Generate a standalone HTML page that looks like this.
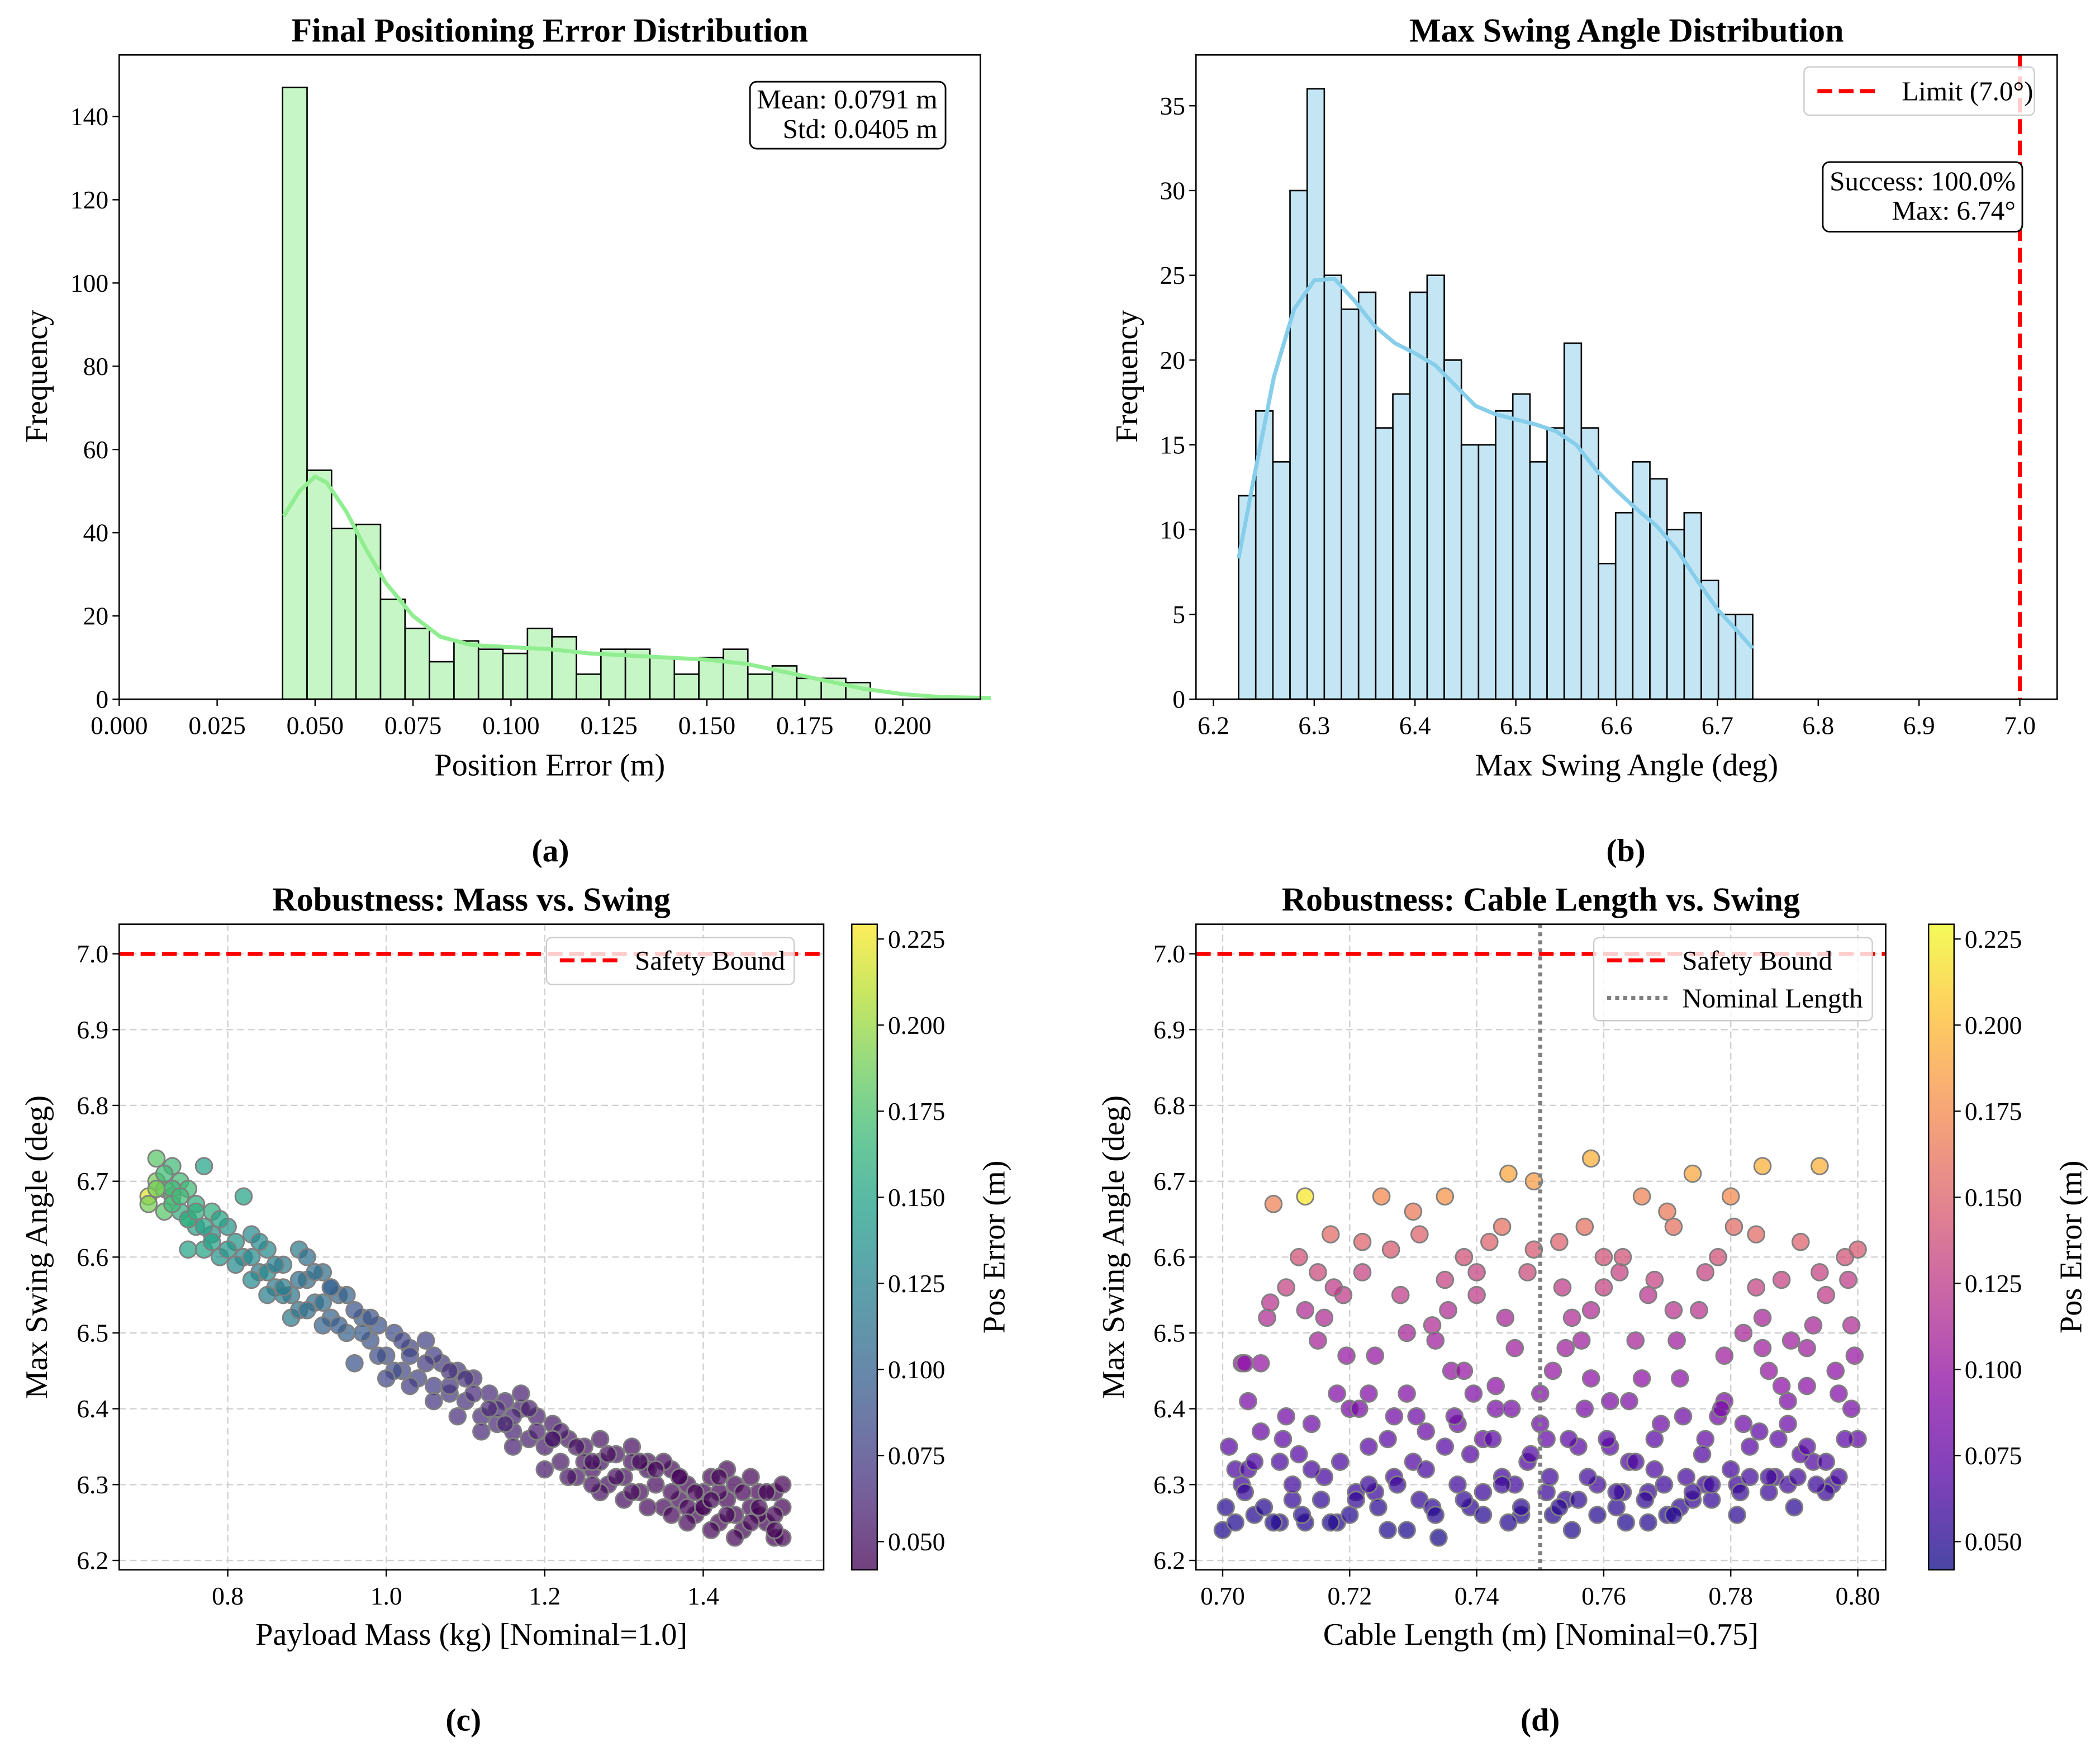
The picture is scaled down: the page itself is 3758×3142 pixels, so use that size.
<!DOCTYPE html>
<html><head><meta charset="utf-8"><style>
html,body{margin:0;padding:0;background:#fff}
svg{display:block}
text{font-family:"Liberation Serif","DejaVu Serif",serif;fill:#000}
.t{font-size:25px;font-weight:bold}
.lab{font-size:23.5px}
.tk{font-size:19px}
.bx{font-size:20.5px}
.pl{font-size:24px;font-weight:bold}
</style></head><body>
<svg id="fig" width="3758" height="3142" viewBox="0 0 1568 1311" preserveAspectRatio="none" xmlns="http://www.w3.org/2000/svg">
<g id="root"></g>
</svg>
<script>
// ---------- DATA ----------
const errBinStart = 0.0417;
const errBinWidth = 0.00625;
const errCounts = [147,55,41,42,24,17,9,14,12,11,17,15,6,12,12,10,6,10,12,6,8,5,5,4];
const errKdeX = [0.042,0.046,0.050,0.053,0.058,0.063,0.068,0.075,0.082,0.090,0.100,0.110,0.120,0.130,0.140,0.150,0.160,0.170,0.180,0.190,0.200,0.210,0.2225];
const errKdeY = [44,50,53.5,52,45,36,28,20,15,13,12.5,12,11,10.5,10,9.5,8.5,6.5,4.5,2.5,1.2,0.5,0.3];
const errXTicks = [0.000,0.025,0.050,0.075,0.100,0.125,0.150,0.175,0.200];
const errYTicks = [0,20,40,60,80,100,120,140];

const swBinStart = 6.225;
const swBinWidth = 0.0170;
const swCounts = [12,17,14,30,36,25,23,24,16,18,24,25,20,15,15,17,18,14,16,21,16,8,11,14,13,10,11,7,5,5];
const swKdeX = [6.225,6.24,6.26,6.28,6.30,6.32,6.34,6.36,6.38,6.40,6.42,6.44,6.46,6.48,6.50,6.52,6.54,6.56,6.58,6.60,6.62,6.64,6.66,6.68,6.70,6.72,6.735];
const swKdeY = [8.3,13,19,23,24.7,24.8,23.5,22,21,20.4,19.7,18.5,17.3,16.8,16.5,16.2,15.8,15,13.5,12.3,11.2,10.2,8.8,7,5.3,4,3];
const swXTicks = [6.2,6.3,6.4,6.5,6.6,6.7,6.8,6.9,7.0];
const swYTicks = [0,5,10,15,20,25,30,35];

const massX = [0.70,0.70,0.71,0.71,0.72,0.72,0.73,0.73,0.74,0.74,0.75,0.75,0.76,0.76,0.77,0.77,0.78,0.78,0.80,0.81,0.82,0.82,0.83,0.84,0.85,0.86,0.87,0.88,0.88,0.89,0.90,0.91,0.92,0.93,0.94,0.95,0.96,0.97,0.98,0.99,1.00,1.01,1.02,1.03,1.04,1.05,1.06,1.07,1.08,1.09,1.10,1.11,1.12,1.13,1.14,1.15,1.16,1.17,1.18,1.19,1.20,1.21,1.22,1.23,1.24,1.25,1.26,1.27,1.28,1.29,1.30,1.31,1.32,1.33,1.34,1.35,1.36,1.37,1.38,1.39,1.40,1.41,1.42,1.43,1.44,1.45,1.46,1.47,1.48,1.49,1.50,1.50,1.35,1.42,1.44,1.46,1.38,1.30,1.25,1.18,1.10,0.95,0.90,0.85,0.79,0.83,0.87,0.92,0.97,1.03,1.08,1.14,1.22,1.27,1.33,1.40,1.47,1.49,1.43,1.37,1.31,1.21,1.16,1.06,1.01,0.93,0.89,0.75,0.73];
const massSwing = [6.68,6.67,6.73,6.70,6.69,6.66,6.72,6.68,6.70,6.66,6.69,6.61,6.67,6.64,6.72,6.61,6.66,6.63,6.64,6.62,6.68,6.60,6.63,6.58,6.61,6.56,6.59,6.55,6.52,6.61,6.57,6.54,6.58,6.52,6.55,6.50,6.46,6.52,6.49,6.51,6.47,6.50,6.45,6.48,6.44,6.49,6.43,6.46,6.42,6.45,6.41,6.44,6.39,6.42,6.38,6.41,6.37,6.40,6.36,6.39,6.35,6.38,6.33,6.36,6.31,6.35,6.32,6.36,6.30,6.34,6.31,6.35,6.29,6.33,6.30,6.27,6.32,6.28,6.30,6.26,6.29,6.31,6.25,6.28,6.30,6.24,6.27,6.29,6.25,6.23,6.27,6.23,6.33,6.29,6.26,6.31,6.27,6.28,6.33,6.40,6.44,6.55,6.60,6.58,6.65,6.57,6.55,6.54,6.50,6.47,6.43,6.40,6.37,6.33,6.32,6.27,6.26,6.29,6.32,6.31,6.33,6.36,6.39,6.47,6.45,6.56,6.53,6.65,6.69];
const massErr = [0.22,0.19,0.18,0.19,0.18,0.18,0.17,0.18,0.17,0.16,0.17,0.15,0.16,0.15,0.15,0.15,0.16,0.14,0.14,0.14,0.15,0.13,0.13,0.12,0.13,0.12,0.12,0.115,0.12,0.12,0.11,0.11,0.11,0.10,0.10,0.10,0.09,0.095,0.09,0.09,0.085,0.085,0.08,0.08,0.078,0.078,0.075,0.072,0.07,0.07,0.068,0.066,0.064,0.063,0.062,0.06,0.06,0.058,0.057,0.056,0.055,0.054,0.053,0.052,0.052,0.051,0.05,0.05,0.049,0.049,0.048,0.048,0.047,0.047,0.047,0.046,0.046,0.046,0.045,0.045,0.045,0.045,0.044,0.044,0.044,0.044,0.044,0.043,0.043,0.043,0.043,0.043,0.046,0.044,0.044,0.044,0.045,0.048,0.051,0.057,0.068,0.10,0.11,0.13,0.15,0.13,0.12,0.11,0.095,0.08,0.07,0.062,0.054,0.05,0.047,0.045,0.043,0.043,0.044,0.046,0.048,0.054,0.06,0.075,0.085,0.10,0.115,0.16,0.17];
const massX2 = [0.71,0.72,0.73,0.74,0.75,0.76,0.77,0.78,0.79,0.80,0.81,0.83,0.84,0.85,0.86,0.87,0.89,0.90,0.91,0.92,0.93,0.94,0.96,0.98,0.99,1.00,1.02,1.03,1.05,1.06,1.08,1.09,1.11,1.12,1.13,1.15,1.16,1.17,1.19,1.20,1.21,1.23,1.24,1.26,1.27,1.28,1.29,1.31,1.32,1.33,1.34,1.36,1.37,1.38,1.39,1.40,1.41,1.42,1.43,1.44,1.45,1.46,1.47,1.48,1.49,1.50,1.49,1.41,1.36,1.26];
const massSwing2 = [6.69,6.71,6.67,6.68,6.65,6.66,6.64,6.62,6.60,6.61,6.59,6.60,6.62,6.55,6.59,6.56,6.57,6.53,6.58,6.51,6.56,6.51,6.53,6.52,6.47,6.44,6.49,6.43,6.46,6.41,6.45,6.39,6.42,6.37,6.40,6.38,6.35,6.42,6.37,6.32,6.36,6.31,6.35,6.33,6.29,6.34,6.31,6.29,6.33,6.27,6.32,6.29,6.31,6.25,6.29,6.27,6.24,6.31,6.26,6.23,6.29,6.25,6.27,6.29,6.26,6.30,6.24,6.28,6.26,6.30];
const massErr2 = [0.19,0.17,0.17,0.17,0.16,0.16,0.15,0.15,0.14,0.14,0.13,0.13,0.13,0.12,0.12,0.12,0.11,0.11,0.11,0.10,0.10,0.095,0.09,0.09,0.085,0.08,0.08,0.075,0.073,0.07,0.068,0.066,0.064,0.062,0.061,0.059,0.058,0.058,0.056,0.054,0.053,0.051,0.051,0.05,0.049,0.049,0.048,0.047,0.047,0.046,0.046,0.045,0.045,0.045,0.044,0.044,0.044,0.044,0.044,0.043,0.043,0.043,0.043,0.043,0.043,0.043,0.043,0.044,0.045,0.049];

const lenX = [0.700,0.701,0.703,0.704,0.705,0.706,0.707,0.708,0.709,0.710,0.711,0.712,0.713,0.713,0.714,0.715,0.716,0.717,0.718,0.719,0.720,0.721,0.722,0.723,0.724,0.725,0.726,0.727,0.728,0.729,0.730,0.731,0.732,0.733,0.734,0.735,0.736,0.737,0.738,0.739,0.740,0.741,0.742,0.743,0.744,0.745,0.746,0.747,0.748,0.749,0.750,0.751,0.752,0.753,0.754,0.755,0.756,0.757,0.758,0.759,0.760,0.761,0.762,0.763,0.764,0.765,0.766,0.767,0.768,0.769,0.770,0.771,0.772,0.773,0.774,0.775,0.776,0.777,0.778,0.779,0.780,0.781,0.782,0.783,0.784,0.785,0.786,0.787,0.788,0.789,0.790,0.791,0.792,0.793,0.794,0.795,0.796,0.797,0.798,0.799,0.800,0.800,0.702,0.712,0.718,0.724,0.733,0.741,0.745,0.748,0.752,0.757,0.763,0.768,0.772,0.776,0.782,0.786,0.791,0.797,0.706,0.727,0.738,0.754,0.766,0.779,0.788,0.799,0.715,0.735,0.760,0.784,0.744,0.770,0.704,0.709,0.721,0.730,0.739,0.746,0.755,0.761,0.767,0.774,0.781,0.789,0.795,0.703,0.716,0.729,0.743,0.758,0.771,0.785,0.793,0.710,0.723,0.737,0.751,0.764,0.778,0.792];
const lenSwing = [6.24,6.35,6.30,6.41,6.26,6.46,6.52,6.67,6.33,6.56,6.28,6.60,6.68,6.25,6.38,6.49,6.31,6.63,6.25,6.55,6.40,6.29,6.62,6.35,6.47,6.68,6.24,6.31,6.55,6.42,6.66,6.28,6.37,6.51,6.23,6.68,6.45,6.30,6.60,6.34,6.55,6.29,6.62,6.40,6.31,6.71,6.48,6.26,6.58,6.70,6.38,6.29,6.45,6.62,6.28,6.52,6.35,6.64,6.73,6.30,6.56,6.41,6.27,6.60,6.33,6.49,6.68,6.29,6.57,6.38,6.26,6.64,6.44,6.31,6.71,6.53,6.36,6.28,6.60,6.41,6.68,6.30,6.50,6.35,6.63,6.72,6.45,6.31,6.57,6.38,6.27,6.62,6.48,6.33,6.72,6.55,6.30,6.42,6.60,6.51,6.36,6.61,6.32,6.34,6.42,6.29,6.27,6.36,6.25,6.33,6.26,6.40,6.29,6.32,6.27,6.30,6.38,6.29,6.34,6.31,6.37,6.39,6.45,6.48,6.44,6.47,6.43,6.40,6.58,6.57,6.60,6.56,6.64,6.66,6.32,6.25,6.28,6.33,6.27,6.30,6.24,6.35,6.25,6.28,6.26,6.30,6.29,6.46,6.52,6.50,6.43,6.44,6.53,6.48,6.51,6.39,6.42,6.38,6.36,6.41,6.39,6.43];
const lenErr = [0.048,0.07,0.06,0.085,0.05,0.10,0.115,0.17,0.065,0.13,0.055,0.14,0.22,0.05,0.08,0.11,0.062,0.155,0.05,0.125,0.085,0.058,0.15,0.07,0.10,0.175,0.048,0.062,0.125,0.09,0.165,0.055,0.078,0.115,0.046,0.18,0.10,0.06,0.14,0.068,0.125,0.058,0.15,0.085,0.062,0.19,0.105,0.05,0.135,0.185,0.08,0.058,0.10,0.15,0.055,0.115,0.07,0.16,0.195,0.06,0.13,0.088,0.052,0.14,0.066,0.11,0.17,0.058,0.13,0.08,0.05,0.16,0.095,0.062,0.19,0.12,0.074,0.055,0.14,0.088,0.175,0.06,0.11,0.07,0.155,0.195,0.10,0.062,0.13,0.08,0.052,0.15,0.105,0.066,0.195,0.125,0.06,0.09,0.14,0.115,0.075,0.145,0.064,0.068,0.09,0.058,0.054,0.075,0.05,0.066,0.05,0.085,0.058,0.064,0.054,0.06,0.08,0.058,0.068,0.062,0.078,0.082,0.10,0.105,0.095,0.105,0.095,0.085,0.135,0.13,0.14,0.13,0.16,0.165,0.064,0.05,0.055,0.066,0.054,0.06,0.048,0.07,0.05,0.055,0.052,0.06,0.058,0.10,0.115,0.11,0.095,0.095,0.12,0.105,0.11,0.082,0.09,0.08,0.075,0.088,0.082,0.095];
const lenX2 = [0.7005,0.702,0.7035,0.705,0.7065,0.708,0.7095,0.711,0.7125,0.714,0.7155,0.717,0.7185,0.720,0.7215,0.723,0.7245,0.726,0.7275,0.729,0.7305,0.732,0.7335,0.735,0.7365,0.738,0.7395,0.741,0.7425,0.744,0.7455,0.747,0.7485,0.750,0.7515,0.753,0.7545,0.756,0.7575,0.759,0.7605,0.762,0.7635,0.765,0.7665,0.768,0.7695,0.771,0.7725,0.774,0.7755,0.777,0.7785,0.780,0.7815,0.783,0.7845,0.786,0.7875,0.789,0.7905,0.792,0.7935,0.795,0.7965,0.798,0.7995,0.7035,0.7075,0.713,0.7175,0.722,0.7265,0.731,0.7355,0.740,0.7445,0.749,0.7535,0.758,0.7625,0.767,0.7715,0.776,0.7805,0.785,0.7895,0.794,0.7985,0.7565,0.7335,0.7195];
const lenSwing2 = [6.27,6.25,6.29,6.33,6.27,6.25,6.36,6.30,6.26,6.32,6.28,6.25,6.33,6.26,6.40,6.30,6.27,6.36,6.30,6.24,6.39,6.32,6.26,6.35,6.39,6.28,6.42,6.26,6.36,6.30,6.40,6.27,6.34,6.42,6.31,6.27,6.36,6.28,6.31,6.26,6.36,6.29,6.25,6.33,6.28,6.36,6.30,6.26,6.39,6.29,6.34,6.30,6.40,6.32,6.29,6.31,6.37,6.31,6.36,6.41,6.31,6.35,6.30,6.33,6.45,6.36,6.47,6.46,6.54,6.53,6.56,6.58,6.61,6.63,6.53,6.58,6.52,6.61,6.56,6.53,6.58,6.55,6.49,6.58,6.64,6.52,6.49,6.58,6.57,6.49,6.49,6.47];
const lenErr2 = [0.05,0.048,0.055,0.065,0.05,0.048,0.072,0.06,0.05,0.062,0.054,0.048,0.064,0.05,0.085,0.058,0.052,0.07,0.058,0.047,0.08,0.062,0.05,0.068,0.08,0.054,0.088,0.05,0.07,0.058,0.084,0.052,0.066,0.09,0.06,0.052,0.07,0.054,0.06,0.05,0.07,0.056,0.048,0.064,0.054,0.07,0.058,0.05,0.08,0.056,0.066,0.058,0.084,0.062,0.056,0.06,0.072,0.06,0.07,0.086,0.06,0.068,0.058,0.064,0.095,0.07,0.10,0.095,0.12,0.115,0.125,0.13,0.145,0.15,0.115,0.13,0.11,0.145,0.125,0.115,0.13,0.12,0.105,0.13,0.155,0.11,0.105,0.13,0.125,0.105,0.105,0.10];

const cXTicks = [0.8,1.0,1.2,1.4];
const dXTicks = [0.70,0.72,0.74,0.76,0.78,0.80];
const scYTicks = [6.2,6.3,6.4,6.5,6.6,6.7,6.8,6.9,7.0];
const cbTicks = [0.050,0.075,0.100,0.125,0.150,0.175,0.200,0.225];

// ---------- HELPERS ----------
const NS = "http://www.w3.org/2000/svg";
const root = document.getElementById('root');
function mk(tag, attrs, parent){
  const e = document.createElementNS(NS, tag);
  for (const k in attrs) e.setAttribute(k, attrs[k]);
  (parent||root).appendChild(e);
  return e;
}
function txt(s, attrs, parent){ const e = mk('text', attrs, parent); e.textContent = s; return e; }
function scale(d0,d1,p0,p1){ return v => p0 + (v-d0)/(d1-d0)*(p1-p0); }
function lerpHex(stops, t){
  t = Math.max(0, Math.min(1, t));
  const n = stops.length-1, i = Math.min(n-1, Math.floor(t*n)), f = t*n - i;
  const a = stops[i], b = stops[i+1];
  const c = [0,1,2].map(j => Math.round(a[j] + (b[j]-a[j])*f));
  return 'rgb(' + c.join(',') + ')';
}
const VIR = [[68,1,84],[72,40,120],[62,74,137],[49,104,142],[38,130,142],[31,158,137],[53,183,121],[109,205,89],[180,222,44],[253,231,37]];
const PLA = [[13,8,135],[84,2,163],[139,10,165],[185,50,137],[219,92,104],[244,136,73],[254,188,43],[240,249,33]];
const CMIN = 0.0418, CMAX = 0.2293;

function frame(g, x0, x1, y0, y1){
  mk('rect', {x:x0, y:y0, width:x1-x0, height:y1-y0, fill:'none', stroke:'#000', 'stroke-width':1.1}, g);
}
function xTicks(g, ticks, sx, y1, fmt, name){
  ticks.forEach(v => {
    const x = sx(v);
    const t = mk('line', {x1:x, x2:x, y1:y1, y2:y1+5, stroke:'#000', 'stroke-width':1}, g);
    
    
    const l = txt(fmt(v), {x:x, y:y1+26, 'text-anchor':'middle', class:'tk'}, g);
    
    
  });
}
function yTicks(g, ticks, sy, x0, fmt, name){
  ticks.forEach(v => {
    const y = sy(v);
    const t = mk('line', {x1:x0-5, x2:x0, y1:y, y2:y, stroke:'#000', 'stroke-width':1}, g);
    
    
    const l = txt(fmt(v), {x:x0-8, y:y+6.5, 'text-anchor':'end', class:'tk'}, g);
    
    
  });
}
function curve(g, xs, ys, sx, sy, color, name){
  const d = xs.map((v,i) => (i?'L':'M') + sx(v).toFixed(2) + ',' + sy(ys[i]).toFixed(2)).join(' ');
  const p = mk('path', {d:d, fill:'none', stroke:color, 'stroke-width':3, 'stroke-linejoin':'round'}, g);
  
  
}
function hist(g, start, w, counts, sx, sy, fill, name){
  counts.forEach((c,i) => {
    const xa = sx(start + i*w), xb = sx(start + (i+1)*w);
    const r = mk('rect', {x:xa, y:sy(c), width:xb-xa, height:sy(0)-sy(c), fill:fill, stroke:'#000', 'stroke-width':1.1}, g);
    
    
  });
}

// ---------- PANEL A ----------
(function(){
  const g = mk('g', {});
  const X0=89,X1=732,Y0=41,Y1=522;
  const sx = scale(0, 0.2198, X0, X1), sy = scale(0, 154.8, Y1, Y0);
  hist(g, errBinStart, errBinWidth, errCounts, sx, sy, '#c6f5c6', 'error-hist');
  curve(g, errKdeX, errKdeY, sx, sy, '#90ee90', 'error-kde-curve');
  frame(g, X0, X1, Y0, Y1);
  xTicks(g, errXTicks, sx, Y1, v => v.toFixed(3), 'error-x-axis');
  yTicks(g, errYTicks, sy, X0, v => String(v), 'error-y-axis');
  txt('Final Positioning Error Distribution', {x:(X0+X1)/2, y:31, 'text-anchor':'middle', class:'t', }, g);
  txt('Position Error (m)', {x:(X0+X1)/2, y:579, 'text-anchor':'middle', class:'lab', }, g);
  txt('Frequency', {x:0, y:0, transform:'translate(35,281) rotate(-90)', 'text-anchor':'middle', class:'lab', }, g);
  const b = mk('g', {}, g);
  mk('rect', {x:560, y:61, width:146, height:50, rx:5, fill:'#fff', stroke:'#000', 'stroke-width':1.2}, b);
  txt('Mean: 0.0791 m', {x:700, y:81, 'text-anchor':'end', class:'bx'}, b);
  txt('Std: 0.0405 m', {x:700, y:103, 'text-anchor':'end', class:'bx'}, b);
  txt('(a)', {x:411, y:643, 'text-anchor':'middle', class:'pl', }, g);
})();

// ---------- PANEL B ----------
(function(){
  const g = mk('g', {});
  const X0=893,X1=1536,Y0=41,Y1=522;
  const sx = scale(6.1827, 7.037, X0, X1), sy = scale(0, 38.0, Y1, Y0);
  hist(g, swBinStart, swBinWidth, swCounts, sx, sy, '#c4e6f4', 'swing-hist');
  curve(g, swKdeX, swKdeY, sx, sy, '#87ceeb', 'swing-kde-curve');
  const lim = mk('line', {x1:sx(7.0), x2:sx(7.0), y1:Y0, y2:Y1, stroke:'#f00', 'stroke-width':3, 'stroke-dasharray':'11,5'}, g);
  
  
  frame(g, X0, X1, Y0, Y1);
  xTicks(g, swXTicks, sx, Y1, v => v.toFixed(1), 'swing-x-axis');
  yTicks(g, swYTicks, sy, X0, v => String(v), 'swing-y-axis');
  txt('Max Swing Angle Distribution', {x:(X0+X1)/2, y:31, 'text-anchor':'middle', class:'t', }, g);
  txt('Max Swing Angle (deg)', {x:(X0+X1)/2, y:579, 'text-anchor':'middle', class:'lab', }, g);
  txt('Frequency', {x:0, y:0, transform:'translate(849,281) rotate(-90)', 'text-anchor':'middle', class:'lab', }, g);
  const lg = mk('g', {}, g);
  mk('rect', {x:1347, y:50, width:172, height:36, rx:4, fill:'#fff', 'fill-opacity':0.8, stroke:'#ccc', 'stroke-width':1}, lg);
  mk('line', {x1:1357, x2:1402, y1:68, y2:68, stroke:'#f00', 'stroke-width':3, 'stroke-dasharray':'11,5'}, lg);
  txt('Limit (7.0°)', {x:1420, y:75, class:'bx'}, lg);
  const b = mk('g', {}, g);
  mk('rect', {x:1361, y:121, width:149, height:52, rx:5, fill:'#fff', stroke:'#000', 'stroke-width':1.2}, b);
  txt('Success: 100.0%', {x:1505, y:142, 'text-anchor':'end', class:'bx'}, b);
  txt('Max: 6.74°', {x:1505, y:164, 'text-anchor':'end', class:'bx'}, b);
  txt('(b)', {x:1214, y:643, 'text-anchor':'middle', class:'pl', }, g);
})();

// ---------- SCATTER PANELS ----------
function scatterPanel(cfg){
  const g = mk('g', {});
  const X0=cfg.X0,X1=cfg.X1,Y0=690,Y1=1172;
  const sx = scale(cfg.xmin, cfg.xmax, X0, X1), sy = scale(6.1876, 7.039, Y1, Y0);
  const grid = mk('g', {}, g);
  cfg.xticks.forEach(v => mk('line', {x1:sx(v), x2:sx(v), y1:Y0, y2:Y1, stroke:'#d0d0d0', 'stroke-width':1, 'stroke-dasharray':'5,3'}, grid));
  scYTicks.forEach(v => mk('line', {x1:X0, x2:X1, y1:sy(v), y2:sy(v), stroke:'#d0d0d0', 'stroke-width':1, 'stroke-dasharray':'5,3'}, grid));
  const pts = mk('g', {}, g);
  cfg.xs.forEach((v,i) => {
    const c = mk('circle', {cx:sx(v), cy:sy(cfg.ys[i]), r:6.2, fill:lerpHex(cfg.cmap, (cfg.cs[i]-CMIN)/(CMAX-CMIN)), 'fill-opacity':0.72, stroke:'#808080', 'stroke-width':1.2}, pts);
    
    
  });
  const sb = mk('line', {x1:X0, x2:X1, y1:sy(7.0), y2:sy(7.0), stroke:'#f00', 'stroke-width':3, 'stroke-dasharray':'11,5'}, g);
  
  
  if (cfg.nominal){
    const nl = mk('line', {x1:sx(cfg.nominal), x2:sx(cfg.nominal), y1:Y0, y2:Y1, stroke:'#808080', 'stroke-width':3, 'stroke-dasharray':'3,3'}, g);
    
    
  }
  frame(g, X0, X1, Y0, Y1);
  xTicks(g, cfg.xticks, sx, Y1, cfg.xfmt, cfg.prefix+'-x-axis');
  yTicks(g, scYTicks, sy, X0, v => v.toFixed(1), cfg.prefix+'-y-axis');
  txt(cfg.title, {x:(X0+X1)/2, y:680, 'text-anchor':'middle', class:'t', }, g);
  txt(cfg.xlabel, {x:(X0+X1)/2, y:1228, 'text-anchor':'middle', class:'lab', }, g);
  txt('Max Swing Angle (deg)', {x:0, y:0, transform:'translate('+(X0-54)+',931) rotate(-90)', 'text-anchor':'middle', class:'lab', }, g);
  const lg = mk('g', {}, g);
  mk('rect', {x:cfg.lgx, y:700, width:cfg.lgw, height:cfg.nominal?62:35, rx:4, fill:'#fff', 'fill-opacity':0.8, stroke:'#ccc', 'stroke-width':1}, lg);
  mk('line', {x1:cfg.lgx+10, x2:cfg.lgx+55, y1:717, y2:717, stroke:'#f00', 'stroke-width':3, 'stroke-dasharray':'11,5'}, lg);
  txt('Safety Bound', {x:cfg.lgx+66, y:724, class:'bx'}, lg);
  if (cfg.nominal){
    mk('line', {x1:cfg.lgx+10, x2:cfg.lgx+55, y1:745, y2:745, stroke:'#808080', 'stroke-width':3, 'stroke-dasharray':'3,3'}, lg);
    txt('Nominal Length', {x:cfg.lgx+66, y:752, class:'bx'}, lg);
  }
  const cb = mk('g', {}, g);
  const gid = cfg.prefix+'-grad';
  const defs = mk('defs', {}, cb);
  const lgd = mk('linearGradient', {id:gid, x1:0, y1:1, x2:0, y2:0}, defs);
  for (let i=0;i<=20;i++) mk('stop', {offset:(i/20), 'stop-color':lerpHex(cfg.cmap, i/20), 'stop-opacity':0.75}, lgd);
  const cX0 = cfg.cbx, cX1 = cfg.cbx+19;
  const sc = scale(CMIN, CMAX, Y1, Y0);
  mk('rect', {x:cX0, y:Y0, width:19, height:Y1-Y0, fill:'url(#'+gid+')', stroke:'#000', 'stroke-width':1}, cb);
  cbTicks.forEach(v => {
    mk('line', {x1:cX1, x2:cX1+5, y1:sc(v), y2:sc(v), stroke:'#000', 'stroke-width':1}, cb);
    txt(v.toFixed(3), {x:cX1+8, y:sc(v)+6.5, class:'tk'}, cb);
  });
  txt('Pos Error (m)', {x:0, y:0, transform:'translate('+(cX1+95)+',931) rotate(-90)', 'text-anchor':'middle', class:'lab', }, cb);
  txt(cfg.label, {x:cfg.labx, y:1292, 'text-anchor':'middle', class:'pl', }, g);
}
scatterPanel({name:'panel-c-mass-vs-swing', prefix:'mass', X0:89, X1:615, xmin:0.663, xmax:1.552, xs:massX.concat(massX2), ys:massSwing.concat(massSwing2), cs:massErr.concat(massErr2), cmap:VIR, xticks:cXTicks, xfmt:v=>v.toFixed(1), title:'Robustness: Mass vs. Swing', xlabel:'Payload Mass (kg) [Nominal=1.0]', lgx:408, lgw:185, cbx:636, label:'(c)', labx:346});
scatterPanel({name:'panel-d-length-vs-swing', prefix:'length', X0:893, X1:1408, xmin:0.6958, xmax:0.8044, xs:lenX.concat(lenX2), ys:lenSwing.concat(lenSwing2), cs:lenErr.concat(lenErr2), cmap:PLA, xticks:dXTicks, xfmt:v=>v.toFixed(2), title:'Robustness: Cable Length vs. Swing', xlabel:'Cable Length (m) [Nominal=0.75]', lgx:1190, lgw:208, cbx:1440, label:'(d)', labx:1150, nominal:0.75});
</script>
</body></html>
